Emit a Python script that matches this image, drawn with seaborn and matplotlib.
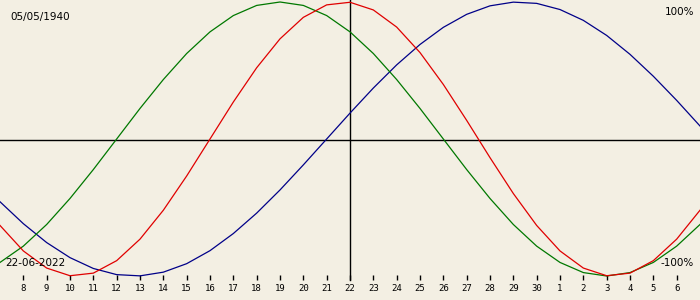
import matplotlib
matplotlib.use("Agg")
import matplotlib.pyplot as plt
import seaborn as sns
import pandas as pd

# day offsets relative to 22-06-2022
offsets = list(range(-15, 16))
day_labels = ["8", "9", "10", "11", "12", "13", "14", "15", "16", "17", "18", "19", "20", "21",
              "22", "23", "24", "25", "26", "27", "28", "29", "30", "1", "2", "3", "4", "5", "6"]
label_offsets = list(range(-14, 15))

physical = [-0.631, -0.817, -0.942, -0.998, -0.979, -0.888, -0.731, -0.520, -0.270, 0.000,
            0.270, 0.520, 0.731, 0.888, 0.979, 0.998, 0.942, 0.817, 0.631, 0.398,
            0.136, -0.136, -0.398, -0.631, -0.817, -0.942, -0.998, -0.979, -0.888, -0.731,
            -0.520]
emotional = [-0.901, -0.782, -0.624, -0.434, -0.223, 0.000, 0.223, 0.434, 0.624, 0.782,
             0.901, 0.975, 1.000, 0.975, 0.901, 0.782, 0.624, 0.434, 0.223, 0.000,
             -0.223, -0.434, -0.624, -0.782, -0.901, -0.975, -1.000, -0.975, -0.901, -0.782,
             -0.624]
intellectual = [-0.458, -0.618, -0.756, -0.866, -0.945, -0.990, -0.999, -0.972, -0.910, -0.815,
                -0.690, -0.541, -0.372, -0.189, 0.000, 0.189, 0.372, 0.541, 0.690, 0.815,
                0.910, 0.972, 0.999, 0.990, 0.945, 0.866, 0.756, 0.618, 0.458, 0.282,
                0.095]

birth_text = "05/05/1940"
date_text = "22-06-2022"

df = pd.DataFrame({
    "day": offsets * 3,
    "value": physical + emotional + intellectual,
    "cycle": ["physical"] * len(offsets) + ["emotional"] * len(offsets) + ["intellectual"] * len(offsets),
})

bg = "#F3EFE3"
fig = plt.figure(figsize=(7, 3), dpi=100, facecolor=bg)
ax = fig.add_axes([0, 0, 1, 1])
ax.set_facecolor(bg)

# pixel mapping: y_px = 139 - 137*v  -> top (0px) and bottom (300px)
ylo = (139 - 300) / 137.0
yhi = 139 / 137.0
ax.set_xlim(-15, 15)
ax.set_ylim(ylo, yhi)

def ypx(p):
    return (139 - p) / 137.0

ax.axhline(ypx(140), color="black", lw=1.0, zorder=1)
ax.plot([0, 0], [yhi, ypx(280)], color="black", lw=1.0, zorder=1)

sns.lineplot(data=df, x="day", y="value", hue="cycle",
             palette={"physical": "#E00000", "emotional": "#007800", "intellectual": "#000088"},
             hue_order=["intellectual", "emotional", "physical"],
             ax=ax, legend=False, lw=0.9, zorder=3)

ax.vlines(label_offsets, ypx(280), ypx(275), color="black", lw=1.0)
for off, lab in zip(label_offsets, day_labels):
    ax.text(off, ypx(288.5), lab, ha="center", va="center", fontsize=6.5,
            family="DejaVu Sans Mono", color="black")

ax.text(10 / 700 * 30 - 15, ypx(17), birth_text, ha="left", va="center", fontsize=7.5, color="black")
ax.text(694 / 700 * 30 - 15, ypx(12), "100%", ha="right", va="center", fontsize=7.5, color="black")
ax.text(5 / 700 * 30 - 15, ypx(262.5), date_text, ha="left", va="center", fontsize=7.5, color="black", zorder=5)
ax.text(694 / 700 * 30 - 15, ypx(262.5), "-100%", ha="right", va="center", fontsize=7.5, color="black", zorder=5)

ax.set_axis_off()
fig.savefig("out.png", dpi=100, facecolor=bg)
